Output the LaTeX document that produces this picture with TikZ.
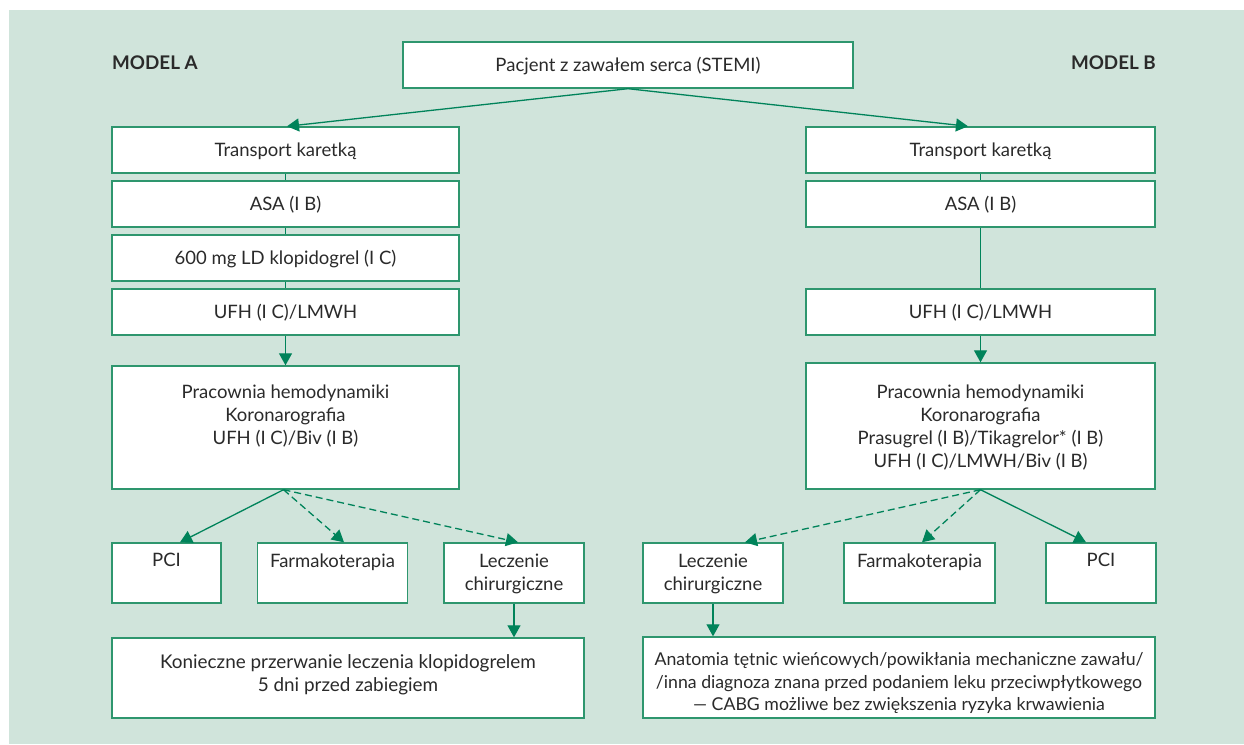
\documentclass[tikz,border=0pt]{standalone}
\usepackage{fontspec}
\setmainfont{Lato}
\usetikzlibrary{arrows.meta}
\definecolor{bgc}{HTML}{D0E4DB}
\definecolor{bord}{HTML}{2E966E}
\definecolor{arr}{HTML}{00835A}
\definecolor{txtc}{HTML}{2A2A2A}
\begin{document}
\begin{tikzpicture}[x=1pt,y=-1pt,
  box/.style={draw=bord, line width=1.4pt, fill=white, inner sep=0pt},
  txt/.style={text=txtc, font=\fontsize{18.5}{23}\selectfont, align=center, inner sep=0pt},
  onebox/.style={box, txt, text height=13pt, text depth=0pt},
  conn/.style={draw=arr, line width=1.3pt},
  arrow/.style={conn, -{Triangle[width=13pt,length=12pt]}},
  darrow/.style={arrow, dash pattern=on 7pt off 4pt},
  model/.style={text=txtc, font=\fontsize{18.8}{23}\selectfont\bfseries, inner sep=0pt}]
\useasboundingbox (0,0) rectangle (1244,744);
\fill[bgc] (9,10) rectangle (1244,744);

\node[model, anchor=west] (mA) at (112,62.5) {MODEL A};
\node[model, anchor=east] (mB) at (1156,62.5) {MODEL B};

\node[onebox, minimum width=450pt, minimum height=46pt] (top) at (628,65) {Pacjent z zawałem serca (STEMI)};

% left column
\node[onebox, minimum width=347pt, minimum height=46pt] (tL) at (285.5,150) {Transport karetką};
\node[onebox, minimum width=347pt, minimum height=46pt] (aL) at (285.5,204) {ASA (I B)};
\node[onebox, minimum width=347pt, minimum height=46pt] (kL) at (285.5,258) {600 mg LD klopidogrel (I C)};
\node[onebox, minimum width=347pt, minimum height=46pt] (uL) at (285.5,312) {UFH (I C)/LMWH};
\node[box, minimum width=347pt, minimum height=123pt] (pA) at (285.5,427.5) {};
\node[txt, anchor=north] (pAt) at ([yshift=-19pt]pA.north) {Pracownia hemodynamiki\\Koronarografia\\UFH (I C)/Biv (I B)};

% right column
\node[onebox, minimum width=349pt, minimum height=46pt] (tR) at (980.5,150) {Transport karetką};
\node[onebox, minimum width=349pt, minimum height=46pt] (aR) at (980.5,204) {ASA (I B)};
\node[onebox, minimum width=349pt, minimum height=46pt] (uR) at (980.5,312) {UFH (I C)/LMWH};
\node[box, minimum width=349pt, minimum height=126pt] (pB) at (980.5,426) {};
\node[txt, anchor=north] (pBt) at ([yshift=-22pt]pB.north) {Pracownia hemodynamiki\\Koronarografia\\Prasugrel (I B)/Tikagrelor* (I B)\\UFH (I C)/LMWH/Biv (I B)};

% left bottom row
\node[box, minimum width=109pt, minimum height=60pt] (pciL) at (166.5,573) {};
\node[txt, anchor=north] (pciLt) at ([yshift=-11pt]pciL.north) {PCI};
\node[box, minimum width=150pt, minimum height=60pt] (farL) at (332.5,573) {};
\node[txt, anchor=north] (farLt) at ([yshift=-11pt]farL.north) {Farmakoterapia};
\node[box, minimum width=140pt, minimum height=60pt] (lecL) at (514,573) {};
\node[txt, anchor=north] (lecLt) at ([yshift=-11pt]lecL.north) {Leczenie\\chirurgiczne};
\node[box, minimum width=472pt, minimum height=80pt] (konL) at (348,678) {};
\node[txt, anchor=north, font=\fontsize{18.9}{23}\selectfont] (konLt) at ([yshift=-17pt]konL.north) {Konieczne przerwanie leczenia klopidogrelem\\5 dni przed zabiegiem};

% right bottom row
\node[box, minimum width=140pt, minimum height=60pt] (lecR) at (713,573) {};
\node[txt, anchor=north] (lecRt) at ([yshift=-11pt]lecR.north) {Leczenie\\chirurgiczne};
\node[box, minimum width=151pt, minimum height=60pt] (farR) at (919.5,573) {};
\node[txt, anchor=north] (farRt) at ([yshift=-11pt]farR.north) {Farmakoterapia};
\node[box, minimum width=110pt, minimum height=60pt] (pciR) at (1101,573) {};
\node[txt, anchor=north] (pciRt) at ([yshift=-11pt]pciR.north) {PCI};
\node[box, minimum width=512pt, minimum height=81pt] (anaR) at (899,677.5) {};
\node[txt, anchor=north, font=\fontsize{17.7}{22.5}\selectfont] (anaRt) at ([yshift=-16pt]anaR.north) {Anatomia tętnic wieńcowych/powikłania mechaniczne zawału/\\/inna diagnoza znana przed podaniem leku przeciwpłytkowego\\— CABG możliwe bez zwiększenia ryzyka krwawienia};

% connectors
\draw[arrow] (top.south) -- ([xshift=1.5pt]tL.north);
\draw[arrow] (top.south) -- ([xshift=-12.5pt]tR.north);
\draw[conn] (tL) -- (aL);
\draw[conn] (aL) -- (kL);
\draw[conn] (kL) -- (uL);
\draw[arrow] (uL) -- (pA);
\draw[conn] (tR) -- (aR);
\draw[conn] (aR) -- (uR);
\draw[arrow] (uR) -- (pB);

\draw[arrow] ([xshift=-2pt]pA.south) -- ([xshift=13.5pt]pciL.north);
\draw[darrow] ([xshift=-2pt]pA.south) -- ([xshift=11.5pt]farL.north);
\draw[darrow] ([xshift=-2pt]pA.south) -- ([xshift=4pt]lecL.north);
\draw[arrow] (lecL.south) -- (lecL.south |- konL.north);

\draw[darrow] (pB.south) -- ([xshift=32pt]lecR.north);
\draw[darrow] (pB.south) -- ([xshift=2.5pt]farR.north);
\draw[arrow] (pB.south) -- ([xshift=-15pt]pciR.north);
\draw[arrow] (lecR.south) -- (lecR.south |- anaR.north);
\end{tikzpicture}
\end{document}
